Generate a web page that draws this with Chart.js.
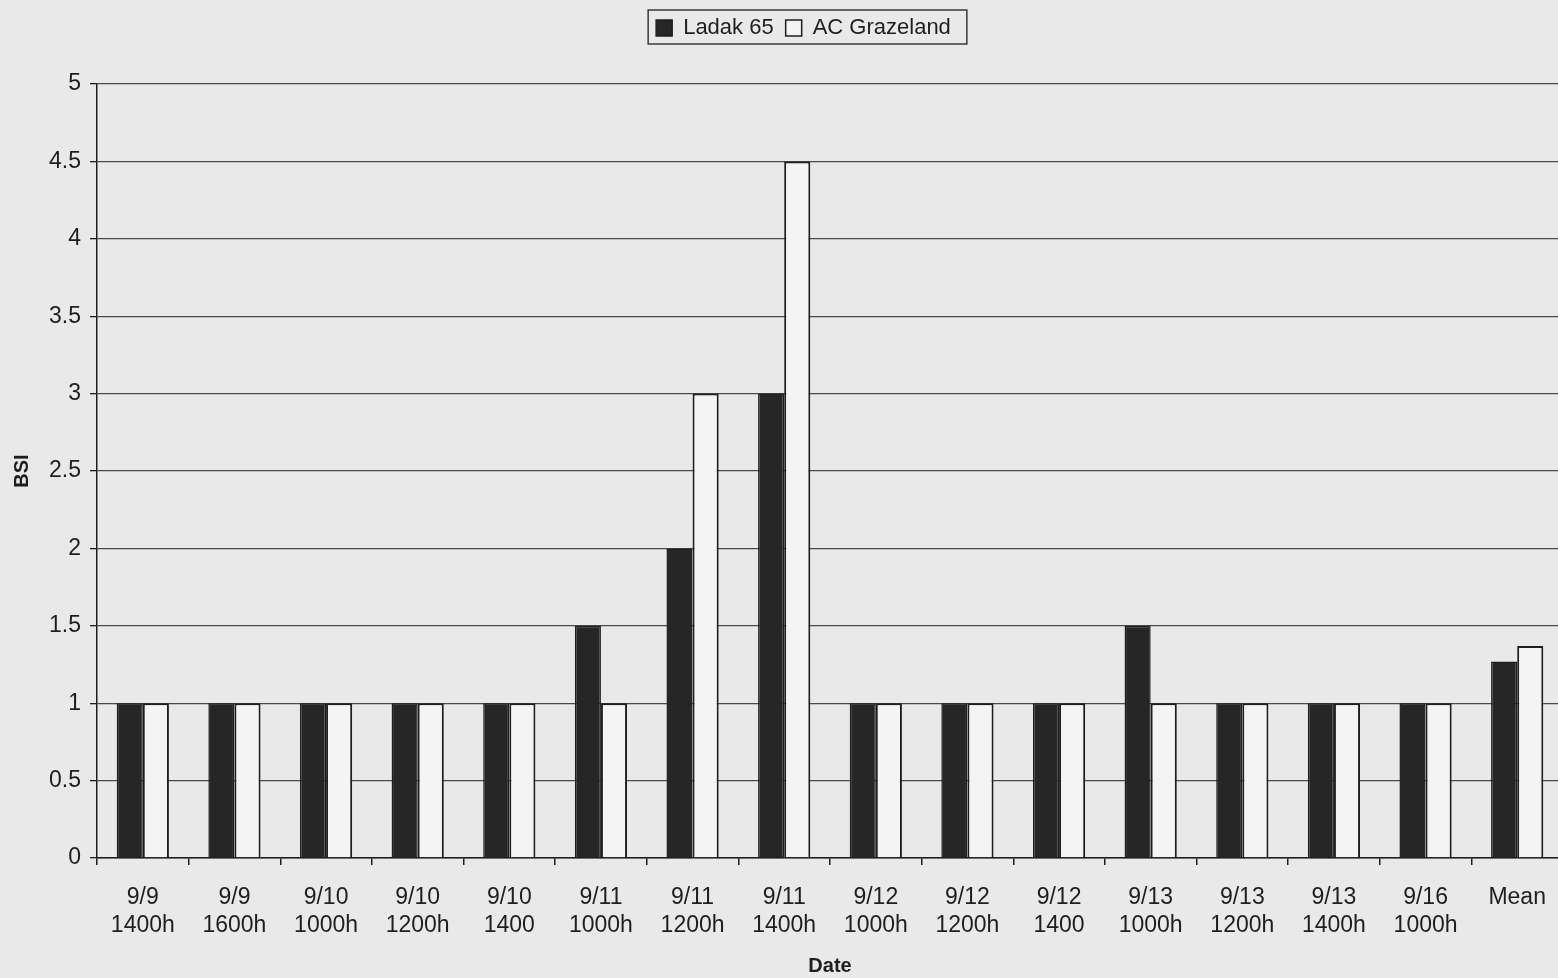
<!DOCTYPE html>
<html>
<head>
<meta charset="utf-8">
<script src="https://cdn.jsdelivr.net/npm/chart.js@4/dist/chart.umd.min.js"></script>
<style>
  html, body { margin: 0; padding: 0; background: #e9e9e9; overflow: hidden; }
  #wrap { position: relative; width: 1566px; height: 978px; }
</style>
</head>
<body>
<div id="wrap"><canvas id="c"></canvas></div>
<script>
// Sampling dates / times (two-line labels)
const dates = [
  ['9/9', '1400h'], ['9/9', '1600h'], ['9/10', '1000h'], ['9/10', '1200h'],
  ['9/10', '1400'], ['9/11', '1000h'], ['9/11', '1200h'], ['9/11', '1400h'],
  ['9/12', '1000h'], ['9/12', '1200h'], ['9/12', '1400'], ['9/13', '1000h'],
  ['9/13', '1200h'], ['9/13', '1400h'], ['9/16', '1000h'], ['Mean']
];
// BSI per variety
const ladak65     = [1, 1, 1, 1, 1, 1.5, 2, 3,   1, 1, 1, 1.5, 1, 1, 1, 1.27];
const acGrazeland = [1, 1, 1, 1, 1, 1,   3, 4.5, 1, 1, 1, 1,   1, 1, 1, 1.37];
const yTicks = [0, 0.5, 1, 1.5, 2, 2.5, 3, 3.5, 4, 4.5, 5];

const FONT = 'Liberation Sans, Arial, sans-serif';
const INK = '#1e1e1e';

// legend: fixed band height above the plot, shifted right, framed
const legendBand = {
  id: 'legendBand',
  beforeLayout(chart) {
    const lg = chart.legend;
    if (lg && !lg._bandPatched) {
      const fit = lg.fit.bind(lg);
      lg.fit = function () { fit(); this.height = 79; };
      lg._bandPatched = true;
    }
  },
  afterLayout(chart) {
    const lg = chart.legend;
    if (!lg) return;
    lg.left += 22;
    lg.right += 22;
  },
  afterDraw(chart) {
    const lg = chart.legend;
    if (!lg || !lg.legendHitBoxes || !lg.legendHitBoxes.length) return;
    const boxes = lg.legendHitBoxes;
    const l = Math.min(...boxes.map(b => b.left)) - 8;
    const r = Math.max(...boxes.map(b => b.left + b.width)) + 16;
    const t = Math.min(...boxes.map(b => b.top)) - 7;
    const ctx = chart.ctx;
    ctx.save();
    ctx.strokeStyle = '#3a3a3a';
    ctx.lineWidth = 1.5;
    ctx.strokeRect(l, t, r - l, 34);
    ctx.restore();
  }
};

new Chart(document.getElementById('c'), {
  type: 'bar',
  data: {
    labels: dates,
    datasets: [
      {
        label: 'Ladak 65',
        data: ladak65,
        backgroundColor: '#262626',
        borderColor: INK,
        borderWidth: 1.5
      },
      {
        label: 'AC Grazeland',
        data: acGrazeland,
        backgroundColor: '#f4f4f4',
        borderColor: INK,
        borderWidth: 2
      }
    ]
  },
  plugins: [legendBand],
  options: {
    responsive: true,
    maintainAspectRatio: false,
    animation: false,
    devicePixelRatio: 1,
    layout: { padding: { left: 0, right: 3, top: 5, bottom: 0 } },
    datasets: { bar: { categoryPercentage: 0.57, barPercentage: 1.0 } },
    plugins: {
      tooltip: { enabled: false },
      legend: {
        position: 'top',
        align: 'center',
        labels: {
          color: INK,
          font: { family: FONT, size: 22 },
          boxWidth: 16,
          boxHeight: 16,
          padding: 12,
          generateLabels(chart) {
            return chart.data.datasets.map((ds, i) => ({
              text: ds.label,
              fillStyle: ds.backgroundColor,
              strokeStyle: INK,
              lineWidth: 1.5,
              datasetIndex: i,
              hidden: false,
              fontColor: INK
            }));
          }
        }
      }
    },
    scales: {
      x: {
        grid: {
          display: true,
          offset: true,
          drawOnChartArea: false,
          drawTicks: true,
          tickLength: 7,
          color: INK,
          lineWidth: 1.5
        },
        border: { display: true, color: INK, width: 1.5 },
        ticks: {
          color: INK,
          font: { family: FONT, size: 23, lineHeight: 1.22 },
          maxRotation: 0,
          autoSkip: false,
          padding: 19
        },
        title: {
          display: true,
          text: 'Date',
          color: INK,
          font: { family: FONT, size: 20, weight: 'bold' },
          padding: { top: 0, bottom: 0 }
        },
        afterFit(scale) { scale.height = 120; }
      },
      y: {
        min: 0,
        max: 5,
        afterBuildTicks(scale) { scale.ticks = yTicks.map(v => ({ value: v })); },
        grid: {
          color: '#4a4a4a',
          lineWidth: 1.3,
          drawTicks: true,
          tickLength: 7,
          tickColor: INK
        },
        border: { display: true, color: INK, width: 1.5 },
        ticks: {
          color: INK,
          font: { family: FONT, size: 23 },
          padding: 9,
          callback: v => String(v)
        },
        title: {
          display: true,
          text: 'BSI',
          color: INK,
          font: { family: FONT, size: 20, weight: 'bold' },
          padding: { top: 10, bottom: 0 }
        },
        afterFit(scale) { scale.width = 97; }
      }
    }
  }
});
</script>
</body>
</html>
